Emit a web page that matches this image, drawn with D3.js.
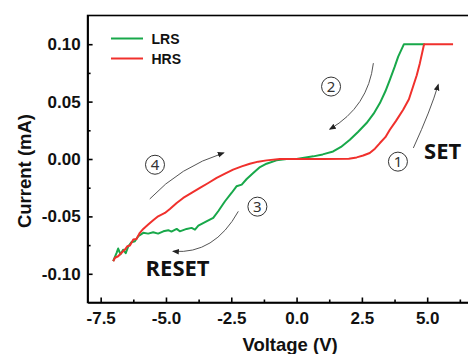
<!DOCTYPE html>
<html>
<head>
    <title>I-V curve</title>
    <meta charset="utf-8">
    <style>
        body { margin: 0; background: #fff; }
        svg { display: block; background: #fff; }
        .axis path, .axis line { stroke: #000; stroke-width: 1.6px; }
        .axis text { font-family: "Liberation Sans", Arial, sans-serif; font-weight: bold; font-size: 17px; fill: #111; }
        .title { font-family: "Liberation Sans", Arial, sans-serif; font-weight: bold; font-size: 18.5px; fill: #111; }
        .legend text { font-family: "Liberation Sans", Arial, sans-serif; font-weight: bold; font-size: 14px; fill: #111; }
        .big { font-family: "Open Sans", "Noto Sans", sans-serif; font-weight: bold; font-size: 22px; fill: #111; }
        .note { fill: none; stroke: #555; stroke-width: 1px; }
        .num { font-family: "Noto Sans", "DejaVu Sans", sans-serif; font-size: 15px; fill: #333; }
    </style>
    <script src="https://cdn.jsdelivr.net/npm/d3@7"></script>
</head>
<body>
    <svg width="468" height="354"></svg>
    <script>
        // HRS (red): RESET return branch and SET branch, voltage (V) vs current (mA)
        var hrsV = [-7.02, -6.95, -6.83, -6.70, -6.57, -6.48, -6.38, -6.25, -6.13, -6.00, -5.87, -5.68, -5.49, -5.30, -5.04, -4.85,
            -4.59, -4.34, -4.02, -3.70, -3.38, -3.06, -2.74, -2.43, -2.10, -1.79, -1.47, -1.15, -0.64, 0.00, 1.00, 2.00,
            2.30, 2.55, 2.80, 3.00, 3.19, 3.40, 3.57, 3.80, 4.08, 4.30, 4.46, 4.60, 4.72, 4.88, 5.40, 5.99];
        var hrsI = [-0.0890, -0.0860, -0.0847, -0.0817, -0.0789, -0.0760, -0.0754, -0.0702, -0.0696, -0.0643, -0.0609, -0.0571, -0.0534, -0.0499, -0.0470, -0.0435,
            -0.0383, -0.0339, -0.0296, -0.0252, -0.0209, -0.0165, -0.0128, -0.0093, -0.0064, -0.0041, -0.0023, -0.0012, 0.0000, 0.0000, 0.0000, 0.0002,
            0.0014, 0.0030, 0.0052, 0.0090, 0.0139, 0.0190, 0.0255, 0.0330, 0.0429, 0.0520, 0.0632, 0.0730, 0.0835, 0.1000, 0.1000, 0.1000];

        // LRS (green): SET return branch and RESET branch
        var lrsV = [-7.02, -6.89, -6.83, -6.74, -6.64, -6.54, -6.44, -6.32, -6.19, -6.06, -5.87, -5.68, -5.49, -5.30, -5.10, -4.91,
            -4.79, -4.59, -4.47, -4.21, -4.02, -3.89, -3.76, -3.45, -3.19, -3.00, -2.74, -2.49, -2.30, -2.10, -1.91, -1.66,
            -1.40, -1.15, -0.77, -0.38, 0.00, 0.64, 1.00, 1.40, 1.70, 2.04, 2.35, 2.68, 2.95, 3.19, 3.40, 3.57, 3.75, 3.89, 4.11, 4.91];
        var lrsI = [-0.0890, -0.0817, -0.0780, -0.0830, -0.0790, -0.0820, -0.0760, -0.0725, -0.0716, -0.0673, -0.0643, -0.0650, -0.0638, -0.0650, -0.0630, -0.0620,
            -0.0632, -0.0609, -0.0630, -0.0609, -0.0600, -0.0615, -0.0580, -0.0543, -0.0513, -0.0455, -0.0368, -0.0296, -0.0238, -0.0223, -0.0174, -0.0122,
            -0.0070, -0.0041, -0.0012, 0.0000, 0.0000, 0.0023, 0.0040, 0.0066, 0.0105, 0.0168, 0.0235, 0.0313, 0.0395, 0.0487, 0.0590, 0.0690, 0.0800, 0.0892, 0.1000, 0.1000];

        var xTicks = [-7.5, -5.0, -2.5, 0.0, 2.5, 5.0];
        var yTicks = [-0.10, -0.05, 0.00, 0.05, 0.10];

        // circled step numbers [label, V, I]
        var stepLabels = [["4", -5.42, -0.0050], ["3", -1.50, -0.0415], ["2", 1.32, 0.0631], ["1", 3.88, -0.0023]];
        // curved arrows: start, control, end (V, I)
        var arrows = [
            [[-5.62, -0.0348], [-4.46, -0.0067], [-2.80, 0.0052]],
            [[-2.23, -0.0456], [-3.15, -0.0832], [-4.72, -0.0804]],
            [[2.94, 0.0835], [2.74, 0.0455], [1.28, 0.0261]],
            [[4.47, 0.0096], [5.14, 0.0429], [5.42, 0.0646]]
        ];

        var svg = d3.select("svg");
        var plotLeft = 87.6, plotRight = 492.5, plotTop = 15.5, plotBottom = 302.5;

        var x = d3.scaleLinear().domain([-8, 7.5]).range([plotLeft, plotRight]);
        var y = d3.scaleLinear().domain([-0.125, 0.125]).range([plotBottom, plotTop]);

        function hyphen(fmt) {
            var f = d3.format(fmt);
            return function (v) { return f(v).replace("\u2212", "-"); };
        }

        var defs = svg.append("defs");
        defs.append("marker").attr("id", "head")
            .attr("viewBox", "0 0 10 10").attr("refX", 8).attr("refY", 5)
            .attr("markerWidth", 7).attr("markerHeight", 7).attr("markerUnits", "userSpaceOnUse")
            .attr("orient", "auto")
            .append("path").attr("d", "M0,1 L10,5 L0,9 Z").attr("fill", "#222");

        // frame (top line; right side falls outside the picture)
        svg.append("rect").attr("x", plotLeft).attr("y", plotTop).attr("width", plotRight - plotLeft).attr("height", plotBottom - plotTop)
            .attr("fill", "none").attr("stroke", "#000").attr("stroke-width", 1.6);

        var minorX = [-6.25, -3.75, -1.25, 1.25, 3.75, 6.25];
        var minorY = [-0.075, -0.025, 0.025, 0.075];

        svg.append("g").attr("class", "axis").attr("transform", "translate(0," + plotBottom + ")")
            .call(d3.axisBottom(x).tickValues(minorX).tickSize(-3).tickFormat(""))
            .select(".domain").remove();
        svg.append("g").attr("class", "axis").attr("transform", "translate(" + plotLeft + ",0)")
            .call(d3.axisLeft(y).tickValues(minorY).tickSize(-3).tickFormat(""))
            .select(".domain").remove();

        svg.append("g").attr("class", "axis").attr("transform", "translate(0," + plotBottom + ")")
            .call(d3.axisBottom(x).tickValues(xTicks).tickSizeInner(-5).tickSizeOuter(0).tickPadding(9).tickFormat(hyphen(".1f")));

        svg.append("g").attr("class", "axis").attr("transform", "translate(" + plotLeft + ",0)")
            .call(d3.axisLeft(y).tickValues(yTicks).tickSizeInner(-5).tickSizeOuter(0).tickPadding(7).tickFormat(hyphen(".2f")));

        svg.append("text").attr("class", "title").attr("x", (plotLeft + plotRight) / 2).attr("y", 351)
            .attr("text-anchor", "middle").text("Voltage (V)");
        svg.append("text").attr("class", "title").attr("transform", "translate(31,171) rotate(-90)")
            .attr("text-anchor", "middle").text("Current (mA)");

        var line = d3.line().x(function (d) { return x(d[0]); }).y(function (d) { return y(d[1]); });

        svg.append("path").datum(d3.zip(lrsV, lrsI)).attr("d", line)
            .attr("fill", "none").attr("stroke", "#18a84a").attr("stroke-width", 2).attr("stroke-linejoin", "round");
        svg.append("path").datum(d3.zip(hrsV, hrsI)).attr("d", line)
            .attr("fill", "none").attr("stroke", "#f0302c").attr("stroke-width", 2).attr("stroke-linejoin", "round");

        // legend
        var legend = svg.append("g").attr("class", "legend");
        [["LRS", "#18a84a", 38.5], ["HRS", "#f0302c", 58.5]].forEach(function (d) {
            legend.append("line").attr("x1", 111).attr("x2", 143).attr("y1", d[2]).attr("y2", d[2])
                .attr("stroke", d[1]).attr("stroke-width", 2);
            legend.append("text").attr("x", 151.5).attr("y", d[2] + 5).text(d[0]);
        });

        // arrows
        arrows.forEach(function (a) {
            var p = a.map(function (d) { return [x(d[0]), y(d[1])]; });
            svg.append("path").attr("class", "note")
                .attr("d", "M" + p[0] + " Q" + p[1] + " " + p[2])
                .attr("marker-end", "url(#head)");
        });

        // circled numbers
        stepLabels.forEach(function (d) {
            var g = svg.append("g").attr("transform", "translate(" + x(d[1]) + "," + y(d[2]) + ")");
            g.append("circle").attr("r", 9.5).attr("fill", "none").attr("stroke", "#333").attr("stroke-width", 1);
            g.append("text").attr("class", "num").attr("text-anchor", "middle").attr("dy", "0.36em").text(d[0]);
        });

        svg.append("text").attr("class", "big").attr("x", x(4.88)).attr("y", y(0.0003)).text("SET");
        svg.append("text").attr("class", "big").attr("x", x(-5.78)).attr("y", y(-0.1023)).text("RESET");
    </script>
</body>
</html>
